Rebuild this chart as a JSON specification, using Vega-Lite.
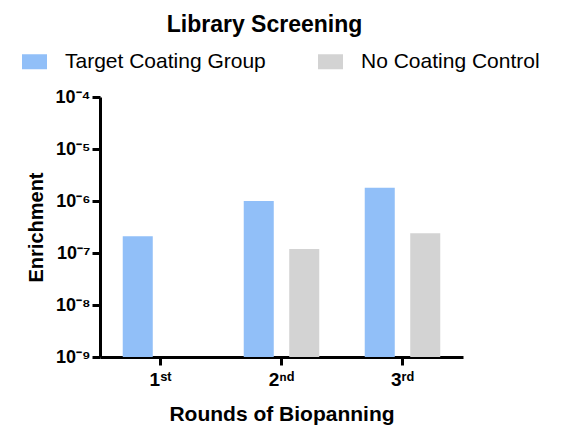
{
  "$schema": "https://vega.github.io/schema/vega-lite/v6.json",
  "autosize": "none",
  "width": 363,
  "height": 260,
  "padding": {"left": 100, "top": 97, "right": 99, "bottom": 91},
  "background": "white",
  "title": {
    "text": "Library Screening",
    "fontSize": 23,
    "fontWeight": "bold",
    "color": "black",
    "anchor": "middle",
    "frame": "group",
    "dx": -17,
    "offset": 12
  },
  "data": {
    "values": [
      {"round": "1st", "group": "Target Coating Group", "enrichment": 2.1e-7},
      {"round": "2nd", "group": "Target Coating Group", "enrichment": 1.0e-6},
      {"round": "2nd", "group": "No Coating Control", "enrichment": 1.2e-7},
      {"round": "3rd", "group": "Target Coating Group", "enrichment": 1.8e-6},
      {"round": "3rd", "group": "No Coating Control", "enrichment": 2.4e-7}
    ]
  },
  "mark": {"type": "bar"},
  "encoding": {
    "x": {
      "field": "round",
      "type": "nominal",
      "scale": {"domain": ["1st", "2nd", "3rd"], "paddingInner": 0, "paddingOuter": -0.045},
      "axis": {
        "title": "Rounds of Biopanning",
        "labelAngle": 0,
        "labelExpr": "datum.value == '1st' ? '1ˢᵗ' : datum.value == '2nd' ? '2ⁿᵈ' : '3ʳᵈ'",
        "labelFontSize": 19,
        "labelPadding": 5,
        "titleFontSize": 21,
        "titlePadding": 14
      }
    },
    "xOffset": {
      "field": "group",
      "type": "nominal",
      "scale": {
        "domain": ["Target Coating Group", "No Coating Control"],
        "paddingInner": 0.34,
        "paddingOuter": 0.5
      }
    },
    "y": {
      "field": "enrichment",
      "type": "quantitative",
      "scale": {"type": "log", "domain": [1e-9, 1e-4], "nice": false},
      "axis": {
        "title": "Enrichment",
        "values": [1e-9, 1e-8, 1e-7, 1e-6, 1e-5, 1e-4],
        "labelExpr": "'10⁻' + substring('⁰¹²³⁴⁵⁶⁷⁸⁹', -round(log(datum.value) / LN10), -round(log(datum.value) / LN10) + 1)",
        "labelFontSize": 18,
        "labelPadding": 2,
        "titleFontSize": 20,
        "titlePadding": 9
      }
    },
    "y2": {"datum": 1e-9},
    "color": {
      "field": "group",
      "type": "nominal",
      "scale": {
        "domain": ["Target Coating Group", "No Coating Control"],
        "range": ["#91BFF8", "#D3D3D3"]
      },
      "legend": {
        "title": null,
        "orient": "none",
        "direction": "horizontal",
        "legendX": -78,
        "legendY": -48,
        "symbolType": "M-1,-0.6H1V0.6H-1Z",
        "symbolSize": 625,
        "symbolStrokeWidth": 0,
        "symbolOpacity": 1,
        "labelFontSize": 21,
        "labelColor": "black",
        "labelOffset": 18,
        "labelLimit": 0,
        "columnPadding": 52
      }
    }
  },
  "config": {
    "font": "Liberation Sans",
    "view": {"stroke": null},
    "axis": {
      "grid": false,
      "domainColor": "black",
      "domainWidth": 3,
      "tickColor": "black",
      "tickWidth": 3,
      "tickSize": 8,
      "labelColor": "black",
      "labelFontWeight": "bold",
      "titleColor": "black",
      "titleFontWeight": "bold"
    },
    "legend": {"labelFont": "Liberation Sans"}
  }
}
